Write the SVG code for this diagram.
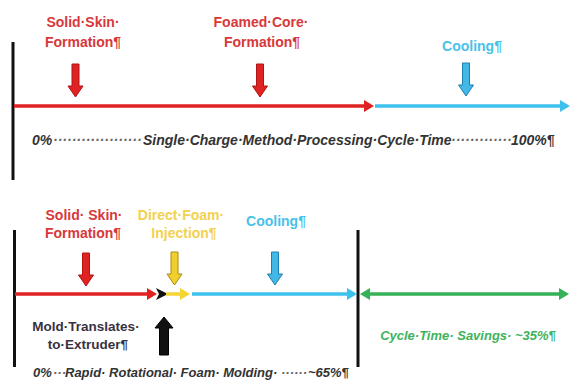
<svg xmlns="http://www.w3.org/2000/svg" width="571" height="381" viewBox="0 0 571 381">
<style>
  text { font-family: "Liberation Sans", Arial, sans-serif; font-weight: bold; }
  .lbl { font-size: 14px; text-anchor: middle; }
  .red { fill: #d8383a; }
  .yel { fill: #f2d14e; }
  .cya { fill: #48c2e8; }
  .grn { fill: #3db35c; font-style: italic; font-size: 13px; }
  .blk { fill: #333333; font-style: italic; }
  .mold { fill: #3a3242; font-size: 13.5px; text-anchor: middle; }
  .bar { stroke: #111; stroke-width: 3; }
  .ln { stroke-width: 3.5; fill: none; }
  .aRed { fill: #e02222; stroke: #b01515; stroke-width: 1; }
  .aCya { fill: #42b8e6; stroke: #1f7fb0; stroke-width: 1; }
  .aYel { fill: #f2cf2c; stroke: #a88c12; stroke-width: 1; }
  .aBlk { fill: #111; stroke: #000; stroke-width: 1; }
</style>
<defs>
  <path id="down" d="M-3.5,0 H3.5 V22 H7.5 L0,33 L-7.5,22 H-3.5 Z"/>
  <marker id="hRed" markerUnits="userSpaceOnUse" markerWidth="11" markerHeight="12" refX="0" refY="6" orient="auto"><path d="M0,0 L10,6 L0,12 Z" fill="#e02222"/></marker>
  <marker id="hCya" markerUnits="userSpaceOnUse" markerWidth="11" markerHeight="12" refX="0" refY="6" orient="auto"><path d="M0,0 L10,6 L0,12 Z" fill="#3ec0ec"/></marker>
  <marker id="hYel" markerUnits="userSpaceOnUse" markerWidth="11" markerHeight="12" refX="0" refY="6" orient="auto"><path d="M0,0 L10,6 L0,12 Z" fill="#f5d534"/></marker>
  <marker id="hGrn" markerUnits="userSpaceOnUse" markerWidth="11" markerHeight="12" refX="0" refY="6" orient="auto-start-reverse"><path d="M0,0 L10,6 L0,12 Z" fill="#35b257"/></marker>
</defs>

<!-- Top timeline -->
<line class="bar" x1="13" y1="42" x2="13" y2="180"/>
<g id="connectors-top">
  <line class="ln" stroke="#e02222" x1="14" y1="106" x2="364" y2="106" marker-end="url(#hRed)"/>
  <line class="ln" stroke="#3ec0ec" x1="375" y1="106" x2="560" y2="106" marker-end="url(#hCya)"/>
</g>
<g id="top-solid-skin">
  <text class="lbl red" x="83" y="27">Solid·Skin·</text>
  <text class="lbl red" x="83" y="47">Formation¶</text>
  <use href="#down" class="aRed" x="75.5" y="64"/>
</g>
<g id="top-foamed-core">
  <text class="lbl red" x="261" y="27">Foamed·Core·</text>
  <text class="lbl red" x="262" y="47">Formation¶</text>
  <use href="#down" class="aRed" x="260" y="64"/>
</g>
<g id="top-cooling">
  <text class="lbl cya" x="472" y="51">Cooling¶</text>
  <use href="#down" class="aCya" x="466" y="63"/>
</g>
<text class="blk" font-size="14" y="145"><tspan x="32">0%</tspan><tspan x="53" fill="#666">···················</tspan><tspan x="143">Single·Charge·Method·Processing·Cycle·Time</tspan><tspan x="451" fill="#666">·············</tspan><tspan x="511">100%¶</tspan></text>

<!-- Bottom timeline -->
<line class="bar" x1="14.5" y1="230" x2="14.5" y2="367"/>
<line class="bar" x1="358" y1="230" x2="358" y2="367"/>
<g id="connectors-bottom">
  <line class="ln" stroke="#e02222" x1="15" y1="294" x2="147" y2="294" marker-end="url(#hRed)"/>
  <path d="M156,288 L168,294 L156,300 L159,294 Z" fill="#111"/>
  <line class="ln" stroke="#f5d534" x1="166" y1="294" x2="180" y2="294" marker-end="url(#hYel)"/>
  <line class="ln" stroke="#3ec0ec" x1="192" y1="294" x2="347" y2="294" marker-end="url(#hCya)"/>
  <line class="ln" stroke="#35b257" x1="370" y1="294" x2="559" y2="294" marker-start="url(#hGrn)" marker-end="url(#hGrn)"/>
</g>
<g id="bottom-solid-skin">
  <text class="lbl red" x="84" y="220">Solid· Skin·</text>
  <text class="lbl red" x="83" y="238">Formation¶</text>
  <use href="#down" class="aRed" x="86" y="253"/>
</g>
<g id="bottom-direct-foam">
  <text class="lbl yel" x="181" y="220">Direct·Foam·</text>
  <text class="lbl yel" x="184" y="238">Injection¶</text>
  <use href="#down" class="aYel" x="174.5" y="252"/>
</g>
<g id="bottom-cooling">
  <text class="lbl cya" x="276" y="226">Cooling¶</text>
  <use href="#down" class="aCya" x="275" y="252"/>
</g>
<g id="mold-translates">
  <text class="mold" x="86" y="331">Mold·Translates·</text>
  <text class="mold" x="88" y="349">to·Extruder¶</text>
  <path class="aBlk" d="M159.5,355 V328 H155 L164,317 L173,328 H168.5 V355 Z"/>
</g>
<g id="savings">
  <text class="grn" x="468" y="340" text-anchor="middle">Cycle·Time· Savings· ~35%¶</text>
</g>
<text class="blk" font-size="13" y="377"><tspan x="33">0%</tspan><tspan x="53" fill="#666">···</tspan><tspan x="65">Rapid· Rotational· Foam· Molding·</tspan><tspan x="281" fill="#666">······</tspan><tspan x="308">~65%¶</tspan></text>
</svg>
